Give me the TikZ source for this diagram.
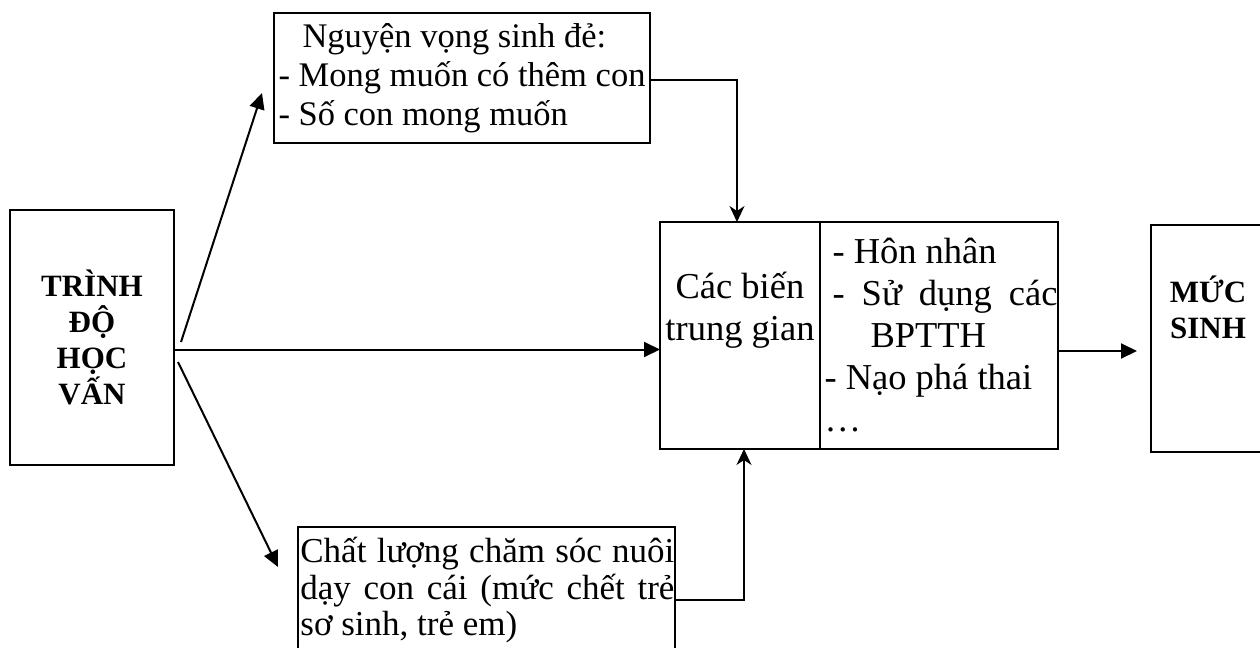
\documentclass[tikz,border=0pt]{standalone}
\usepackage{fontspec}
\setmainfont{Liberation Serif}
\usepackage{tikz}
\usetikzlibrary{positioning, arrows.meta}
\lineskiplimit=-30pt

\tikzset{
  hop/.style={draw=black, line width=1.25pt, inner sep=0pt, outer sep=0pt},
  dam/.style={font=\bfseries\fontsize{15.5}{18}\selectfont, inner sep=0pt},
  chutren/.style={font=\fontsize{17.25}{19.5}\selectfont},
  chugiua/.style={font=\fontsize{18.25}{21}\selectfont, inner sep=0pt},
  chuduoi/.style={font=\fontsize{17.5}{18.25}\selectfont, inner sep=0pt},
  muiten/.style={line width=1pt, -{Triangle[length=8pt, width=7.5pt]}},
  muitenvuong/.style={line width=1pt, -{Stealth[length=8pt, width=7.5pt, inset=2.5pt]}}
}

\begin{document}
\begin{tikzpicture}[x=0.5pt, y=-0.5pt]
  \useasboundingbox (0,0) rectangle (1260,648);
  \clip (0,0) rectangle (1260,648);

  % cac hop
  \node[hop, dam, minimum width=82pt, minimum height=127.5pt, align=center] (hocvan) at (92,337.5) {TRÌNH\\ĐỘ\\HỌC\\VẤN};
  \node[hop, chutren, minimum width=188pt, minimum height=65pt, align=left] (nguyenvong) at (462,78)
       {\hspace*{12pt}Nguyện vọng sinh đẻ:\\- Mong muốn có thêm con\\- Số con mong muốn};
  \node[hop, minimum width=80pt, minimum height=113.5pt] (bientg) at (740,335.5) {};
  \node[chugiua, align=center] (bientgchu) at ([yshift=12.5pt]bientg.center) {Các biến\\trung gian};
  \node[hop, chugiua, minimum width=119pt, minimum height=113.5pt, align=left, right=0pt of bientg] (bienlist)
       {\hspace*{6pt}- Hôn nhân\\
        \hspace*{6pt}\makebox[112.5pt][s]{- Sử dụng các}\\
        \hspace*{25pt}BPTTH\\
        \hspace*{2pt}- Nạo phá thai\\
        \hspace*{2pt}…};
  \node[hop, minimum width=57pt, minimum height=113.5pt] (mucsinh) at (1208,338.5) {};
  \node[dam, align=center] (mucsinhchu) at ([yshift=15.5pt]mucsinh.center) {MỨC\\SINH};
  \node[hop, minimum width=188.5pt, minimum height=86.5pt] (chatluong) at (486.5,613.5) {};
  \node[chuduoi, align=left, anchor=north west] (chatluongchu) at ([shift={(1pt,-5pt)}]chatluong.north west)
       {\makebox[187pt][s]{Chất lượng chăm sóc nuôi}\\
        \makebox[187pt][s]{dạy con cái (mức chết trẻ}\\
        sơ sinh, trẻ em)};

  % cac mui ten
  \draw[muiten] ([yshift=-6pt]hocvan.east) -- ([yshift=-7pt]bientg.west);
  \draw[muiten] ([shift={(3.5pt,-2.25pt)}]hocvan.east) -- ([shift={(-6pt,25pt)}]nguyenvong.south west);
  \draw[muiten] ([shift={(2pt,-12.25pt)}]hocvan.east) -- ([shift={(-10pt,-20pt)}]chatluong.north west);
  \draw[muitenvuong] ([yshift=-1pt]nguyenvong.east) -| ([xshift=-1.5pt]bientg.north);
  \draw[muitenvuong] ([yshift=7pt]chatluong.east) -| ([xshift=2pt]bientg.south);
  \draw[muiten] ([yshift=-7.75pt]bienlist.east) -- ([shift={(-7pt,-6.25pt)}]mucsinh.west);

\end{tikzpicture}
\end{document}
